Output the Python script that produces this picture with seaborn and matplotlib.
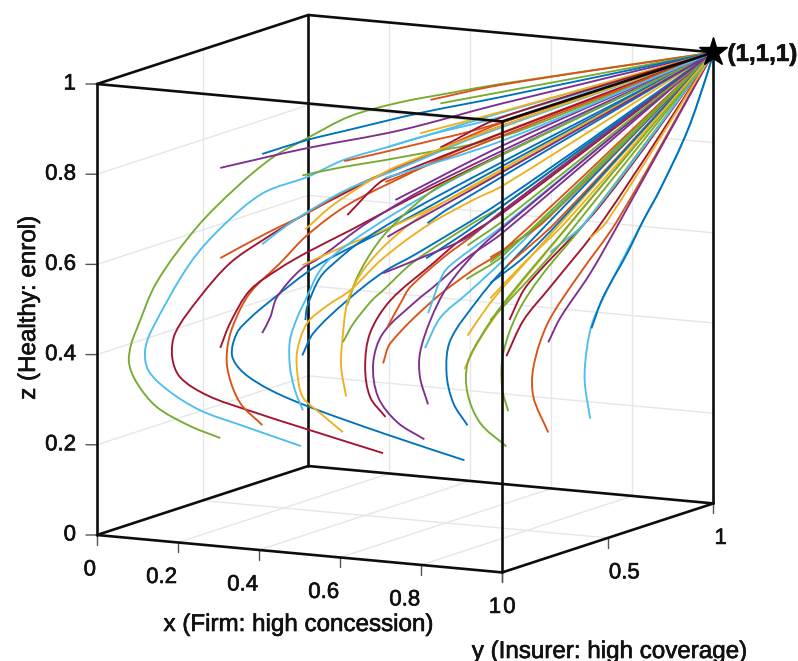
import matplotlib
matplotlib.use("Agg")
import matplotlib.pyplot as plt
import matplotlib.patheffects as pe
import numpy as np
import seaborn as sns
from matplotlib.patches import PathPatch
from matplotlib.path import Path
from matplotlib.transforms import offset_copy, Bbox
from mpl_toolkits.mplot3d import proj3d

# ---------- tick values and text ----------
x_ticks = [0, 0.2, 0.4, 0.6, 0.8, 1]
x_labels = ["0", "0.2", "0.4", "0.6", "0.8", "1"]
y_ticks = [0, 0.5, 1]
y_labels = ["0", "0.5", "1"]
z_ticks = [0, 0.2, 0.4, 0.6, 0.8, 1]
z_labels = ["0", "0.2", "0.4", "0.6", "0.8", "1"]
x_title = "x (Firm: high concession)"
y_title = "y (Insurer: high coverage)"
z_title = "z (Healthy: enrol)"
end_point = (1.0, 1.0, 1.0)
end_label = "(1,1,1)"

# ---------- trajectories ----------
# One view cannot show depth along the line of sight, so each curve is held on
# the plane y = x: only x and z are listed, and every curve ends at end_point.
x_g1 = [.200,.151,.097,.065,.052,.055,.065,.097,.162,.227,.286,.341,.411,.492,.573,.654]
z_g1 = [.201,.231,.277,.332,.377,.417,.454,.554,.671,.756,.818,.856,.900,.925,.940,.954]
x_l1 = [.331,.232,.167,.114,.083,.078,.089,.151,.205,.269,.341,.399,.471,.545,.654]
z_l1 = [.174,.228,.265,.314,.360,.404,.449,.592,.672,.739,.770,.803,.827,.852,.890]
x_r1 = [.464,.346,.244,.179,.135,.122,.127,.167,.216,.269,.341,.459,.573,.659]
z_r1 = [.149,.208,.260,.297,.340,.386,.439,.516,.588,.635,.690,.765,.824,.862]
x_b1 = [.596,.468,.346,.281,.237,.219,.227,.248,.276,.341,.373,.492,.659]
z_b1 = [.124,.191,.259,.302,.344,.383,.432,.463,.494,.559,.584,.659,.773]
x_o1 = [.268,.232,.213,.211,.221,.248,.297,.341,.406,.492,.606]
z_o1 = [.225,.277,.344,.395,.450,.519,.582,.641,.703,.757,.822]
x_r2 = [.200,.216,.248,.297,.341,.411,.481,.545]
z_r2 = [.401,.455,.525,.571,.603,.647,.693,.733]
x_p1 = [.268,.281,.292,.330,.362,.438,.557]
z_p1 = [.429,.463,.507,.565,.590,.661,.747]
x_o2 = [.200,.269,.341,.411,.524,.659]
z_o2 = [.600,.646,.690,.740,.799,.869]
x_l2 = [.268,.308,.341,.403,.492,.622]
z_l2 = [.626,.665,.692,.736,.779,.843]
x_p2 = [.200,.269,.341,.492,.654]
z_p2 = [.800,.817,.834,.863,.910]
x_b2 = [.268,.341,.406,.524,.654]
z_b2 = [.826,.852,.869,.899,.925]
x_g2 = [.333,.399,.464,.536,.601,.687]
z_g2 = [.774,.788,.798,.811,.822,.849]
x_o3 = [.401,.464,.545,.601,.687]
z_o3 = [.801,.816,.837,.851,.880]
x_l3 = [.471,.536,.654]
z_l3 = [.827,.849,.881]
x_y1 = [.333,.399,.464,.545,.659]
z_y1 = [.575,.611,.643,.688,.762]
x_y2 = [.399,.362,.334,.325,.325,.341,.373,.411,.464,.536,.610,.659]
z_y2 = [.200,.245,.282,.336,.387,.446,.482,.514,.581,.649,.700,.729]
x_y3 = [.338,.383,.464,.519,.659]
z_y3 = [.654,.705,.770,.799,.862]
x_l4 = [.334,.321,.313,.313,.325,.338,.362,.394,.492,.622]
z_l4 = [.253,.299,.351,.410,.460,.497,.562,.604,.686,.776]
x_b3 = [.333,.351,.406,.464,.519,.659]
z_b3 = [.375,.423,.492,.550,.588,.696]
x_b4 = [.338,.341,.362,.390,.427,.541]
z_b4 = [.453,.482,.546,.582,.620,.705]
x_g3 = [.406,.422,.455,.492,.545,.584]
z_g3 = [.481,.542,.615,.668,.726,.753]
x_y4 = [.404,.396,.398,.407,.432,.476,.541]
z_y4 = [.279,.345,.404,.492,.557,.620,.683]
x_g4 = [.399,.416,.446,.464,.513,.610,.659]
z_g4 = [.400,.440,.489,.510,.569,.649,.685]
x_r3 = [.468,.443,.435,.443,.476,.545,.589,.659]
z_r3 = [.229,.275,.342,.417,.487,.564,.612,.669]
x_p3 = [.531,.487,.456,.448,.464,.519,.545,.601,.657]
z_p3 = [.175,.216,.274,.349,.415,.484,.511,.573,.623]
x_o4 = [.464,.476,.545,.610,.659]
z_o4 = [.348,.392,.482,.545,.585]
x_o5 = [.471,.495,.508,.562,.606,.659]
z_o5 = [.428,.486,.514,.576,.618,.674]
x_l5 = [.537,.562,.584,.659]
z_l5 = [.454,.541,.569,.640]
x_l6 = [.532,.557,.601,.659]
z_l6 = [.377,.443,.494,.563]
x_p4 = [.537,.524,.524,.541,.568,.617,.659]
z_p4 = [.252,.313,.367,.439,.510,.588,.636]
x_b5 = [.601,.578,.567,.573,.617,.654]
z_b5 = [.201,.252,.319,.391,.477,.535]
x_y5 = [.601,.635,.659]
z_y5 = [.400,.465,.503]
x_y6 = [.596,.617,.659,.752]
z_y6 = [.326,.382,.463,.612]
x_g5 = [.664,.622,.601,.601,.622,.659,.744]
z_g5 = [.150,.204,.272,.338,.395,.467,.601]
x_g6 = [.601,.659]
z_g6 = [.600,.651]
x_g7 = [.599,.659]
z_g7 = [.525,.574]
x_b6 = [.536,.573]
z_b6 = [.654,.686]
x_b7 = [.534,.610]
z_b7 = [.576,.640]
x_p5 = [.471,.503,.606]
z_p5 = [.628,.651,.722]
x_p6 = [.464,.524,.601,.670]
z_p6 = [.548,.577,.618,.684]
x_r4 = [.406,.459,.492,.606]
z_r4 = [.681,.750,.768,.822]
x_o7 = [.468,.659]
z_o7 = [.750,.840]
x_r5 = [.669,.692,.719,.817]
z_r5 = [.430,.494,.537,.674]
x_r6 = [.664,.692,.735,.821]
z_r6 = [.350,.428,.498,.640]
x_g8 = [.667,.657,.659,.682,.719,.795]
z_g8 = [.228,.281,.357,.444,.521,.642]
x_o8 = [.732,.708,.708,.731,.779,.844]
z_o8 = [.176,.256,.323,.418,.517,.638]
x_p7 = [.732,.752,.800,.849]
z_p7 = [.376,.430,.524,.638]
x_l7 = [.800,.791,.795,.805,.838,.886,.914,.958,.990]
z_l7 = [.202,.288,.361,.420,.513,.635,.704,.830,.954]
x_b8 = [.802,.821,.860,.886,.914,.958,.990]
z_b8 = [.402,.470,.564,.635,.704,.830,.954]
x_y7 = [.800,.828]
z_y7 = [.602,.639]
x_l8 = [.735,.795]
z_l8 = [.575,.642]
x_g9 = [.638,.666,.714,.756]
z_g9 = [.432,.470,.537,.600]
x_o10 = [.638,.670,.727]
z_o10 = [.571,.595,.646]
x_o11 = [.666,.747]
z_o11 = [.552,.645]
x_g11 = [.638,.692,.752]
z_g11 = [.560,.614,.679]
x_b9 = [.638,.692,.752]
z_b9 = [.514,.567,.645]
x_y8 = [.638,.692,.763]
z_y8 = [.480,.554,.644]
x_y9 = [.524,.654]
z_y9 = [.854,.892]
x_r7 = [.557,.654]
z_r7 = [.820,.879]
x_o12 = [.541,.654]
z_o12 = [.927,.952]
x_g12 = [.557,.654]
z_g12 = [.918,.936]
x_p8 = [.484,.659]
z_p8 = [.709,.818]
x_l9 = [.468,.659]
z_l9 = [.759,.829]

# MATLAB's line colours
line_hex = ["#0072BD", "#D95319", "#EDB120", "#7E2F8E", "#77AC30", "#4DBEEE", "#A2142F"]

trajectories = [
    ("g", x_g1, z_g1), ("o", x_o12, z_o12), ("g", x_g12, z_g12), ("l", x_l1, z_l1),
    ("r", x_r1, z_r1), ("b", x_b1, z_b1), ("o", x_o1, z_o1), ("r", x_r2, z_r2),
    ("p", x_p1, z_p1), ("o", x_o2, z_o2), ("l", x_l2, z_l2), ("p", x_p2, z_p2),
    ("b", x_b2, z_b2), ("g", x_g2, z_g2), ("o", x_o3, z_o3), ("l", x_l3, z_l3),
    ("y", x_y9, z_y9), ("r", x_r7, z_r7), ("y", x_y1, z_y1), ("y", x_y2, z_y2),
    ("y", x_y3, z_y3), ("l", x_l4, z_l4), ("b", x_b3, z_b3), ("b", x_b4, z_b4),
    ("g", x_g3, z_g3), ("y", x_y4, z_y4), ("g", x_g4, z_g4), ("r", x_r3, z_r3),
    ("p", x_p3, z_p3), ("o", x_o4, z_o4), ("o", x_o5, z_o5), ("l", x_l5, z_l5),
    ("l", x_l6, z_l6), ("p", x_p4, z_p4), ("b", x_b5, z_b5), ("y", x_y5, z_y5),
    ("y", x_y6, z_y6), ("g", x_g5, z_g5), ("g", x_g6, z_g6), ("g", x_g7, z_g7),
    ("b", x_b6, z_b6), ("b", x_b7, z_b7), ("p", x_p5, z_p5), ("p", x_p6, z_p6),
    ("r", x_r4, z_r4), ("o", x_o7, z_o7), ("p", x_p8, z_p8), ("l", x_l9, z_l9),
    ("r", x_r5, z_r5), ("r", x_r6, z_r6), ("g", x_g8, z_g8), ("o", x_o8, z_o8),
    ("p", x_p7, z_p7), ("l", x_l7, z_l7), ("b", x_b8, z_b8), ("y", x_y7, z_y7),
    ("l", x_l8, z_l8), ("g", x_g9, z_g9), ("o", x_o10, z_o10), ("o", x_o11, z_o11),
    ("g", x_g11, z_g11), ("b", x_b9, z_b9), ("y", x_y8, z_y8),
]

sns.set_style("white")
palette = dict(zip("boypglr", sns.color_palette(line_hex)))
plt.rcParams["font.family"] = ["Liberation Sans", "DejaVu Sans"]

fig = plt.figure(figsize=(7.98, 6.61), dpi=100)
ax = fig.add_axes([-0.1, -0.1, 1.2, 1.2], projection="3d", proj_type="ortho")
ax.view_init(elev=10, azim=-62)
ax.computed_zorder = False
ax.set_axis_off()

GRID = "#e6e6e6"
EDGE = "#0d0d0d"
TICK = "#555555"

# grid on the floor and the two back walls
for v in x_ticks[1:-1]:
    ax.plot([v, v], [0, 1], [0, 0], color=GRID, lw=1, zorder=1)
    ax.plot([v, v], [1, 1], [0, 1], color=GRID, lw=1, zorder=1)
for v in y_ticks[1:-1]:
    ax.plot([0, 1], [v, v], [0, 0], color=GRID, lw=1, zorder=1)
    ax.plot([0, 0], [v, v], [0, 1], color=GRID, lw=1, zorder=1)
for v in z_ticks[1:-1]:
    ax.plot([0, 0], [0, 1], [v, v], color=GRID, lw=1, zorder=1)
    ax.plot([0, 1], [1, 1], [v, v], color=GRID, lw=1, zorder=1)

# cube: back edges go under the curves, front edges over them
back = [([0, 0], [1, 1], [0, 1]), ([0, 1], [1, 1], [0, 0]), ([0, 0], [0, 1], [0, 0]),
        ([1, 1], [1, 1], [0, 1]), ([0, 1], [1, 1], [1, 1])]
front = [([0, 1], [0, 0], [0, 0]), ([1, 1], [0, 1], [0, 0]), ([0, 0], [0, 0], [0, 1]),
         ([1, 1], [0, 0], [0, 1]), ([0, 1], [0, 0], [1, 1]), ([1, 1], [0, 1], [1, 1]),
         ([0, 0], [0, 1], [1, 1])]
for xs, ys, zs in back:
    ax.plot(xs, ys, zs, color=EDGE, lw=1.9, zorder=2, solid_capstyle="round")
for xs, ys, zs in front:
    ax.plot(xs, ys, zs, color=EDGE, lw=1.9, zorder=4, solid_capstyle="round")

ax.plot([end_point[0]], [end_point[1]], [end_point[2]], marker="*", color="black",
        markersize=21, zorder=5, linestyle="none")

# tick marks
T = 0.022
for v in x_ticks:
    ax.plot([v, v], [0, 0], [0, -T], color=TICK, lw=1, zorder=1)
for v in y_ticks:
    ax.plot([1, 1], [v, v], [0, -T], color=TICK, lw=1, zorder=1)
for v in z_ticks:
    ax.plot([0, -0.0212], [0, -0.0114], [v, v], color=TICK, lw=1, zorder=1)

ax.set_xlim(0, 1)
ax.set_ylim(0, 1)
ax.set_zlim(0, 1)
box = (459, 450, 458)


def project(x, y, z):
    X, Y, _ = proj3d.proj_transform(x, y, z, ax.get_proj())
    return np.array([X, Y])


def to_px(x, y, z):
    return ax.transData.transform(project(x, y, z))


# fit the cube to the reference frame: origin at (97, 535), z edge 451 px tall
ax.set_box_aspect(box, zoom=1.0)
fig.canvas.draw()
h = to_px(0, 0, 1)[1] - to_px(0, 0, 0)[1]
ax.set_box_aspect(box, zoom=451.0 / h)
fig.canvas.draw()
o = to_px(0, 0, 0)
dx, dy = (97 - o[0]) / 798, (661 - 535 - o[1]) / 661
p = ax.get_position(original=True)
ax.set_position(Bbox.from_extents(p.x0 + dx, p.y0 + dy, p.x1 + dx, p.y1 + dy))
fig.canvas.draw()


class Curve(PathPatch):
    """A smooth curve held in the axes' projected view coordinates."""

    def do_3d_projection(self):
        return 0.0


def smooth_path(points):
    """Cubic Bezier path running through every read point, with no added vertices on it."""
    pts = np.asarray(points, dtype=float)
    if len(pts) == 2:
        return Path(pts, [Path.MOVETO, Path.LINETO])
    seg = np.diff(pts, axis=0)
    d = np.linalg.norm(seg, axis=1)
    tan = np.zeros_like(pts)
    tan[1:-1] = (pts[2:] - pts[:-2]) / (d[1:] + d[:-1])[:, None]
    tan[0] = seg[0] / d[0]
    tan[-1] = seg[-1] / d[-1]
    verts, codes = [pts[0]], [Path.MOVETO]
    for i in range(len(pts) - 1):
        verts += [pts[i] + tan[i] * d[i] / 3, pts[i + 1] - tan[i + 1] * d[i] / 3, pts[i + 1]]
        codes += [Path.CURVE4] * 3
    return Path(np.array(verts), codes)


# curves, through the axes' own projection and data transform
for key, xs, zs in trajectories:
    xv = list(xs) + [end_point[0]]
    zv = list(zs) + [end_point[2]]
    view = [project(a, a, b) for a, b in zip(xv, zv)]
    ax.add_artist(Curve(smooth_path(view), facecolor="none", edgecolor=palette[key],
                        lw=1.35, zorder=3, capstyle="butt", joinstyle="round",
                        transform=ax.transData))

heavy = [pe.withStroke(linewidth=0.45, foreground="#111111")]


def label(x, y, z, s, ox, oy, **kw):
    tr = offset_copy(ax.transData, fig=fig, x=ox, y=oy, units="dots")
    X, Y = project(x, y, z)
    ax.text2D(X, Y, s, transform=tr, zorder=6, color="#111111", path_effects=heavy, **kw)


TS = 16
for v, s in zip(x_ticks, x_labels):
    label(v, 0, 0, s, -1, -35, ha="right", va="center", fontsize=TS)
for v, s in zip(y_ticks, y_labels):
    label(1, v, 0, s, 1, -35, ha="left", va="center", fontsize=TS)
for v, s in zip(z_ticks, z_labels):
    label(0, 0, v, s, -21, 0, ha="right", va="center", fontsize=TS)
label(*end_point, end_label, 14, -2, ha="left", va="center", fontsize=17.4, fontweight="bold")

TT = 17.4
fig.text(298 / 798, 1 - 625 / 661, x_title, ha="center", va="center", fontsize=TT, color="#111111", path_effects=heavy)
fig.text(609 / 798, 1 - 652 / 661, y_title, ha="center", va="center", fontsize=TT, color="#111111", path_effects=heavy)
fig.text(29 / 798, 1 - 308 / 661, z_title, ha="center", va="center", rotation=90, fontsize=TT, color="#111111", path_effects=heavy)

fig.savefig("out.png", dpi=100)
